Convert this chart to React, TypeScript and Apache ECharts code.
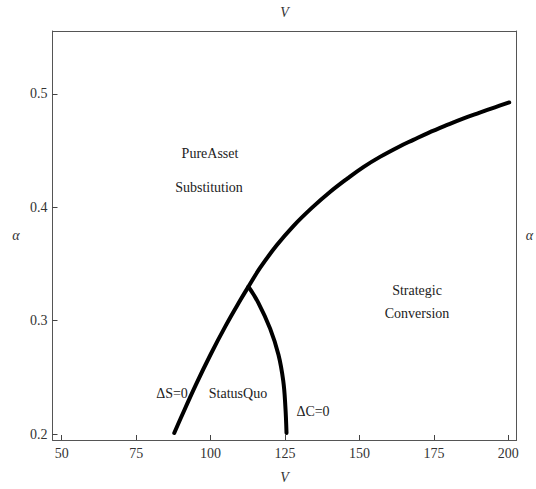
import React, { useEffect, useRef } from "react";
import * as echarts from "echarts";

// ΔS = 0 boundary (V, α)
const vS = [87.8, 90.0, 95.0, 100.0, 105.0, 110.0, 112.7, 116.6, 122.2, 127.8, 134.0, 140.1, 146.0, 151.3, 156.9, 163.3, 168.1, 173.0, 179.3, 185.0, 190.4, 195.5, 200.3];
const alphaS = [0.201, 0.2142, 0.2432, 0.2702, 0.2952, 0.3182, 0.330, 0.3465, 0.3665, 0.3835, 0.3995, 0.4135, 0.4255, 0.4355, 0.4445, 0.4535, 0.4595, 0.4655, 0.4725, 0.4785, 0.4835, 0.4882, 0.4925];

// ΔC = 0 boundary (V, α)
const vC = [112.7, 116.0, 120.0, 122.8, 124.4, 125.1, 125.5];
const alphaC = [0.330, 0.316, 0.293, 0.270, 0.247, 0.225, 0.201];

const xTicks = [50, 75, 100, 125, 150, 175, 200];
const yTicks = [0.2, 0.3, 0.4, 0.5];

const regionLabels = [
  { text: "PureAsset", x: 210, y: 153 },
  { text: "Substitution", x: 209, y: 187 },
  { text: "Strategic", x: 417, y: 290 },
  { text: "Conversion", x: 417, y: 313 },
  { text: "ΔS=0", x: 172, y: 393 },
  { text: "StatusQuo", x: 238, y: 393 },
  { text: "ΔC=0", x: 313, y: 411 },
];

const FONT = "'Liberation Serif', 'Times New Roman', serif";

export default function App() {
  const ref = useRef<HTMLDivElement>(null);
  useEffect(() => {
    if (!ref.current) return;
    const chart = echarts.init(ref.current, null, { renderer: "svg" });
    const frameLine = { show: true, lineStyle: { color: "#555", width: 1 } };
    const labelStyle = { color: "#333", fontFamily: FONT, fontSize: 14 };
    const nameStyle = { fontFamily: FONT, fontStyle: "italic", fontSize: 14, color: "#333" };
    chart.setOption({
      animation: false,
      backgroundColor: "#fff",
      grid: { left: 52.5, right: 19, top: 29, bottom: 42, containLabel: false },
      xAxis: [
        {
          type: "value",
          position: "bottom",
          min: 46.9,
          max: 202.8,
          axisLine: frameLine,
          splitLine: { show: false },
          axisTick: { show: true, inside: true, length: 5, customValues: xTicks, lineStyle: { color: "#444" } },
          axisLabel: { show: true, customValues: xTicks, margin: 6, ...labelStyle },
          name: "V",
          nameLocation: "middle",
          nameGap: 30,
          nameTextStyle: nameStyle,
        },
        {
          type: "value",
          position: "top",
          min: 46.9,
          max: 202.8,
          axisLine: frameLine,
          splitLine: { show: false },
          axisTick: { show: false },
          axisLabel: { show: false },
          name: "V",
          nameLocation: "middle",
          nameGap: 12,
          nameTextStyle: nameStyle,
        },
      ],
      yAxis: [
        {
          type: "value",
          position: "left",
          min: 0.1948,
          max: 0.5555,
          axisLine: frameLine,
          splitLine: { show: false },
          axisTick: { show: true, inside: true, length: 5, customValues: yTicks, lineStyle: { color: "#444" } },
          axisLabel: { show: true, customValues: yTicks, margin: 5, formatter: (v: number) => v.toFixed(1), ...labelStyle },
          name: "α",
          nameLocation: "middle",
          nameRotate: 0,
          nameGap: 33,
          nameTextStyle: nameStyle,
        },
        {
          type: "value",
          position: "right",
          min: 0.1948,
          max: 0.5555,
          axisLine: frameLine,
          splitLine: { show: false },
          axisTick: { show: false },
          axisLabel: { show: false },
          name: "α",
          nameLocation: "middle",
          nameRotate: 0,
          nameGap: 9,
          nameTextStyle: nameStyle,
        },
      ],
      series: [
        {
          name: "ΔS=0",
          type: "line",
          data: vS.map((v, i) => [v, alphaS[i]]),
          smooth: 0.4,
          showSymbol: false,
          symbol: "none",
          lineStyle: { color: "#000", width: 4, cap: "round", join: "round" },
        },
        {
          name: "ΔC=0",
          type: "line",
          data: vC.map((v, i) => [v, alphaC[i]]),
          smooth: 0.4,
          showSymbol: false,
          symbol: "none",
          lineStyle: { color: "#000", width: 4, cap: "round", join: "round" },
        },
      ],
      graphic: regionLabels.map((l) => ({
        type: "text",
        x: l.x,
        y: l.y,
        style: {
          text: l.text,
          fill: "#222",
          font: `14px ${FONT}`,
          textAlign: "center",
          textVerticalAlign: "middle",
        },
      })),
    });
    return () => chart.dispose();
  }, []);
  return (
    <div
      ref={ref}
      style={{ position: "fixed", left: 0, top: 0, width: 536, height: 489, background: "#fff" }}
    />
  );
}
